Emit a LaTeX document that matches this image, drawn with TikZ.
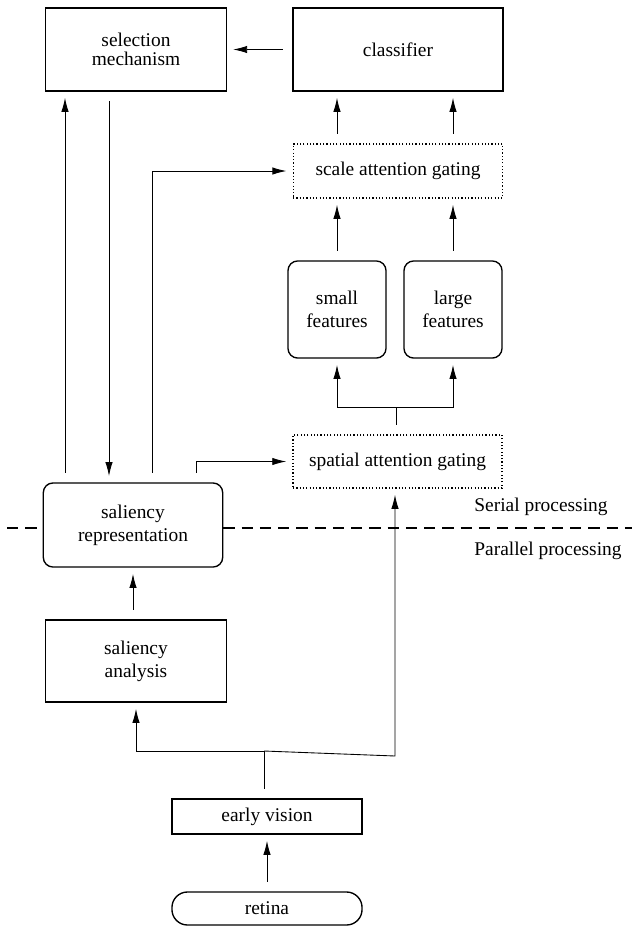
\documentclass[tikz,border=0pt]{standalone}
\usepackage{fontspec}
\setmainfont{Liberation Serif}
\usetikzlibrary{arrows.meta}
\tikzset{
  solidbox/.style={draw, line width=0.7pt, align=center, inner sep=1pt},
  roundbox/.style={solidbox, rounded corners=5pt},
  gatebox/.style={draw, line width=0.6pt, dash pattern=on 0.6pt off 1.1pt, align=center, inner sep=1pt},
  arr/.style={line width=0.45pt, -{Latex[length=7.2pt,width=3.8pt]}, shorten >=3.2pt},
  lead/.style={line width=0.45pt, shorten <=5pt},
  divider/.style={line width=0.6pt, dash pattern=on 5.8pt off 3.6pt}
}
\begin{document}
\begin{tikzpicture}[x=0.515pt, y=-0.515pt]
\useasboundingbox (0,0) rectangle (632,926);
\node[solidbox, minimum width=93pt, minimum height=42.7pt] (selection) at (136,49.5) {selection\\[-2.2pt]mechanism};
\node[solidbox, minimum width=108pt, minimum height=42.7pt] (classifier) at (398,49.5) {classifier};
\node[gatebox, minimum width=108pt, minimum height=27.8pt] (scale) at (398,171) {scale attention gating};
\node[roundbox, minimum width=50.5pt, minimum height=50pt] (small) at (337,309.5) {small\\features};
\node[roundbox, minimum width=50.5pt, minimum height=50pt] (large) at (453,309.5) {large\\features};
\node[gatebox, minimum width=107.6pt, minimum height=27.3pt] (spatial) at (397.5,461.5) {spatial attention gating};
\node[roundbox, minimum width=92.4pt, minimum height=43.3pt] (rep) at (133,525) {saliency\\representation};
\node[solidbox, minimum width=93pt, minimum height=42.2pt] (analysis) at (136,661) {saliency\\analysis};
\node[solidbox, minimum width=97.9pt, minimum height=18pt] (early) at (267,816.5) {early vision};
\node[roundbox, rounded corners=8pt, minimum width=97.9pt, minimum height=17pt] (retina) at (267,908.5) {retina};
\node[anchor=west, inner sep=0pt] (serial) at (474,507) {Serial processing};
\node[anchor=west, inner sep=0pt] (parallel) at (474,551) {Parallel processing};
\coordinate (sepL) at (7,528);
\coordinate (sepR) at (632,528);
\coordinate (featsplit) at (396,407);
\coordinate (evsplit) at (264,751);
\coordinate (evbend) at (395,756);
\draw[divider] (sepL) -- (sepL -| rep.west);
\draw[divider] (sepR -| rep.east) -- (sepR);
\draw[arr, lead] (classifier) -- (selection);
\draw[arr, lead] (scale.north -| small) -- (classifier.south -| small);
\draw[arr, lead] (scale.north -| large) -- (classifier.south -| large);
\draw[arr, lead] (small) -- (small |- scale.south);
\draw[arr, lead] (large) -- (large |- scale.south);
\draw[lead] (spatial.north -| featsplit) -- (featsplit);
\draw[arr] (featsplit) -| (small.south);
\draw[arr] (featsplit) -| (large.south);
\draw[arr, lead] (65,0 |- rep.north) -- (65,0 |- selection.south);
\draw[arr, lead] (109,0 |- selection.south) -- (109,0 |- rep.north);
\draw[arr, lead] (152,0 |- rep.north) |- (scale.west);
\draw[arr, lead] (196,0 |- rep.north) |- (spatial.west);
\draw[arr, lead] (analysis.north -| rep.south) -- (rep.south);
\draw[lead] (early.north -| evsplit) -- (evsplit);
\draw[arr] (evsplit) -| (analysis.south);
\draw[arr] (evsplit) -- (evbend) -- (evbend |- spatial.south);
\draw[arr, lead] (retina) -- (early);
\end{tikzpicture}
\end{document}
